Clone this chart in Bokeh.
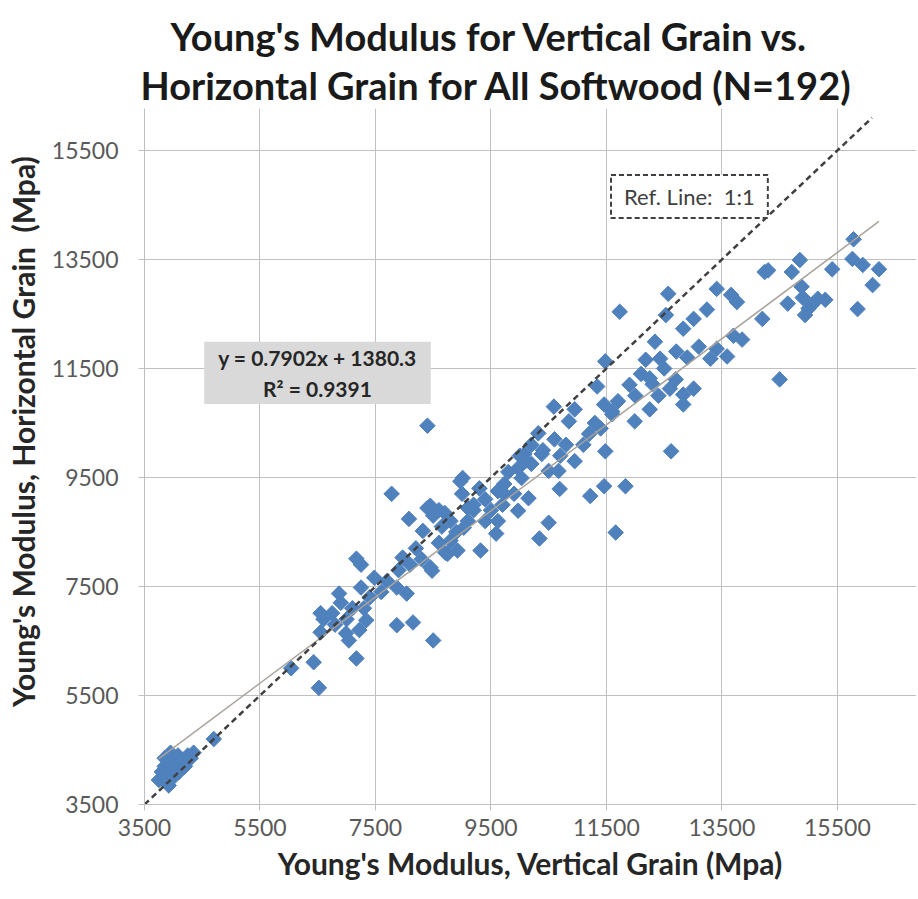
import math
from bokeh.plotting import figure
from bokeh.models import Label, FixedTicker, Range1d, Title
from bokeh.embed import file_html
from bokeh.resources import INLINE

# ---------------- data ----------------
x_vertical = [
    # 3500-5000 cluster
    3750, 3800, 3820, 3850, 3880, 3900, 3920, 3950, 3980, 4000, 4050,
    4080, 4100, 4150, 4200, 4250, 4300, 4350, 3850, 3950, 4700, 4000,
    # 6000-7500
    6040, 6430, 6520, 6550, 6550, 6750, 6870, 6990, 7040, 7170, 7220,
    7170, 7250, 7340, 7480, 7250, 6600, 6800, 7100, 7000, 7300, 7400, 6900,
    # 7500-9200
    7780, 8080, 8450, 8500, 8600, 8700, 9010, 7870, 8150, 8500, 7870,
    8040, 8480, 7970, 8320, 8750, 8920, 8800, 9030, 9100, 8400, 8710,
    8450, 8200, 8300, 8600, 8900, 8650, 8100, 7700, 7600, 7900, 8400,
    8970, 9000, 8800, 9200,
    # 9200-11000
    9320, 9590, 9620, 9620, 9730, 9730, 9970, 9970, 10030, 10080, 10150,
    10200, 10320, 10380, 10500, 10500, 10340, 10670, 10690, 10590, 10950,
    10850, 10950, 9400, 9500, 9300, 9200, 9800, 9900, 10100, 10400, 10600,
    10800, 9400, 9700, 10000, 10200, 10700, 9100,
    # 11000-13000
    11340, 11460, 11600, 11220, 11460, 11660, 11480, 11480, 11600, 11830,
    11990, 11730, 12250, 12250, 12180, 12340, 12430, 12710, 12300, 12600,
    12830, 13010, 12830, 12620, 12570, 12530, 12830, 13010, 11200, 11300,
    11100, 11700, 11900, 12000, 12100, 12500, 12700, 12900, 11400, 12400,
    # 13000-16300
    13240, 13410, 13660, 13760, 13410, 13300, 13590, 13850, 14200, 14500,
    14640, 14710, 14850, 14880, 14940, 15160, 15060, 15290, 14240, 15410,
    15780, 15760, 15940, 16220, 16110, 15850, 13100, 13700, 14300, 14900, 15000,
]
y_horizontal = [
    3950, 4100, 4000, 4200, 4050, 4300, 3850, 4150, 4350, 4000, 4250,
    4400, 4100, 4300, 4200, 4400, 4350, 4450, 4350, 4450, 4700, 4200,
    6000, 6110, 5640, 6660, 7010, 7010, 7370, 6640, 6510, 6180, 6700,
    8010, 7480, 6880, 7660, 7900, 6900, 6800, 7100, 6900, 7100, 7300, 7200,
    9200, 8740, 8980, 8800, 8900, 8850, 9490, 6790, 6840, 6510, 7480,
    7370, 7790, 8030, 8520, 8100, 8160, 8340, 8580, 8940, 8940, 8120,
    7850, 8200, 8000, 8300, 8500, 8600, 7900, 7600, 7400, 7800, 10450,
    9430, 9200, 8700, 8900,
    8160, 8470, 8700, 9250, 9380, 9200, 9670, 8890, 9490, 9930, 9120,
    9750, 10310, 9930, 9620, 8670, 8380, 9620, 9290, 10800, 10750,
    10530, 9800, 9100, 8900, 9300, 9000, 9600, 9200, 9800, 10000, 10200,
    10100, 8700, 9000, 9900, 10100, 9900, 8700,
    11170, 10840, 10710, 9160, 9340, 8490, 11630, 9980, 10660, 9340,
    10530, 12540, 10750, 11320, 11660, 11990, 11680, 11810, 11210, 11130,
    11020, 11130, 10840, 9980, 12870, 12480, 12230, 12410, 10300, 10500,
    10100, 10900, 11200, 11000, 11400, 11500, 11300, 11700, 10400, 11000,
    12580, 12960, 12850, 12720, 11860, 11680, 11720, 12030, 12410, 11300,
    12690, 13270, 13490, 13000, 12480, 12780, 12670, 12760, 13270, 13320,
    13870, 13510, 13400, 13320, 13030, 12590, 11900, 12100, 13300, 12800, 12600,
]
trend_slope = 0.7902
trend_intercept = 1380.3
r_squared = 0.9391
ref_line_start = 3500
ref_line_end = 16100
tick_values = [3500, 5500, 7500, 9500, 11500, 13500, 15500]

title_line1 = "Young's Modulus for Vertical Grain vs."
title_line2 = "Horizontal Grain for All Softwood (N=192)"
x_label = "Young's Modulus, Vertical Grain (Mpa)"
y_label = "\u00a0" * 7 + "Young's Modulus, Horizontal Grain\u00a0 (Mpa)"
equation_text = f"y = {trend_slope}x + {trend_intercept}\nR\u00b2 = {r_squared}"
ref_text = "Ref. Line:\u00a0 1:1"

FONT = "Lato"

p = figure(width=916, height=888,
           x_range=Range1d(3500, 16870), y_range=Range1d(3500, 16270),
           output_backend="svg", toolbar_location=None,
           min_border_left=144, min_border_top=108,
           min_border_bottom=84, min_border_right=0)
p.outline_line_color = None
p.background_fill_color = "white"

# titles: p.title is drawn outermost (first line); the added Title sits next to the plot
p.title.text = title_line1
p.title.align = "left"
p.title.offset = 26
p.title.text_font = FONT
p.title.text_font_size = "38px"
p.title.text_font_style = "bold"
p.title.text_color = "#1a1a1a"
p.title.standoff = 0
p.add_layout(Title(text=title_line2, align="left", offset=-4, text_font=FONT,
                   text_font_size="38px", text_font_style="bold",
                   text_color="#1a1a1a", standoff=2), "above")

for ax in (p.xaxis, p.yaxis):
    ax.ticker = FixedTicker(ticks=tick_values)
    ax.axis_line_color = "#bfbfbf"
    ax.major_tick_line_color = "#bfbfbf"
    ax.major_tick_out = 6
    ax.major_tick_in = 0
    ax.minor_tick_line_color = None
    ax.major_label_text_font = FONT
    ax.major_label_text_font_size = "23px"
    ax.major_label_text_color = "#595959"
    ax.axis_label_text_font = FONT
    ax.axis_label_text_font_size = "30px"
    ax.axis_label_text_font_style = "bold"
    ax.axis_label_text_color = "#262626"

p.xaxis.axis_label = x_label
p.yaxis.axis_label = y_label
p.xaxis.major_label_standoff = 8
p.yaxis.major_label_standoff = 20
p.xaxis.axis_label_standoff = 6
p.yaxis.axis_label_standoff = 8

p.xgrid.ticker = FixedTicker(ticks=tick_values)
p.ygrid.ticker = FixedTicker(ticks=tick_values)
p.xgrid.grid_line_color = "#c0c0c0"
p.ygrid.grid_line_color = "#c0c0c0"

# scatter
p.scatter(x_vertical, y_horizontal, marker="square", size=11, angle=math.pi / 4,
          fill_color="#4F81BD", line_color="#4F81BD")

# linear trend line
tx = [min(x_vertical), max(x_vertical)]
ty = [trend_slope * v + trend_intercept for v in tx]
p.line(tx, ty, line_color="#a8a29a", line_width=1.5)

# 1:1 reference line
p.line([ref_line_start, ref_line_end], [ref_line_start, ref_line_end],
       line_color="#404040", line_width=2.5, line_dash="6 4")

# equation box
p.add_layout(Label(x=6496, y=11420, text=equation_text, text_align="center",
                   text_baseline="middle", text_font=FONT, text_font_size="21px",
                   text_font_style="bold", text_color="#262626",
                   text_line_height=1.25,
                   background_fill_color="#d9d9d9", padding=(14, 3)))

# reference line box
p.add_layout(Label(x=12937, y=14656, text=ref_text, text_align="center",
                   text_baseline="middle", text_font=FONT, text_font_size="22px",
                   text_color="#404040", background_fill_color="white",
                   border_line_color="#404040", border_line_width=2,
                   border_line_dash="5 3", padding=(13, 8)))

open("out.html", "w").write(file_html(p, INLINE))
